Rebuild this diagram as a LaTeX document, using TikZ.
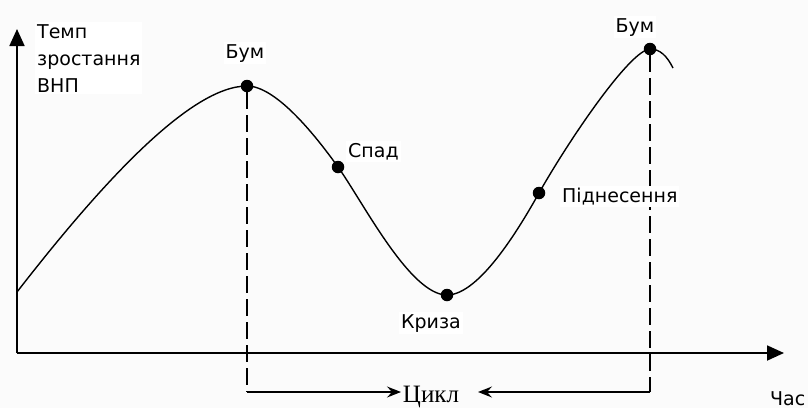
\documentclass[tikz,border=0pt]{standalone}
\usepackage{fontspec}
\setmainfont{DejaVu Sans}
\newfontfamily\serifcyr{Liberation Serif}
\usetikzlibrary{arrows.meta}
\definecolor{bgc}{RGB}{251,251,251}
\begin{document}
\begin{tikzpicture}[x=1pt,y=-1pt,
  axis/.style={line width=1.8pt,-{Triangle[length=17pt,width=15pt]}},
  curveline/.style={line width=1.4pt},
  dashline/.style={line width=1.8pt,dash pattern=on 17pt off 6pt},
  cycline/.style={line width=1.4pt,-{Stealth[length=14pt,width=11pt,inset=5pt]}},
  dot/.style={circle,fill=black,inner sep=0pt,minimum size=12.5pt},
  lbl/.style={font=\fontsize{19}{27}\selectfont,inner sep=0pt,fill=white},
  cyclbl/.style={font=\serifcyr\fontsize{25}{27}\selectfont,inner sep=0pt}]
\useasboundingbox (0,0) rectangle (808,408);
\fill[bgc] (0,0) rectangle (808,408);
% axes
\coordinate (O) at (17,353);
\coordinate (ytip) at (17,29);
\coordinate (xtip) at (784,353);
\draw[axis] (O) -- (ytip);
\draw[axis] (O) -- (xtip);
% points
\coordinate (start) at (17,292);
\coordinate (endc) at (673,68);
\node[dot] (boom1) at (247,86) {};
\node[dot] (fall) at (338,167) {};
\node[dot] (crisis) at (447,295) {};
\node[dot] (rise) at (539,193) {};
\node[dot] (boom2) at (650,49) {};
% curve
\draw[curveline] (start)
  .. controls (100,185) and (190,86) .. (boom1.center)
  .. controls (275,86) and (313,132) .. (fall.center)
  .. controls (363,202) and (410,295) .. (crisis.center)
  .. controls (480,295) and (521,225) .. (rise.center)
  .. controls (569,140) and (630,50) .. (boom2.center)
  .. controls (660,49) and (667,56) .. (endc);
% cycle
\coordinate (c1) at (247,392);
\coordinate (c2) at (650,392);
\coordinate (t1) at (401,392);
\coordinate (t2) at (478,392);
\draw[dashline] (boom1) -- (c1);
\draw[dashline] (boom2) -- (c2);
\draw[cycline] (c1) -- (t1);
\draw[cycline] (c2) -- (t2);
% labels
\node[lbl,anchor=north west,align=left,inner sep=2pt] (ylab) at (35,22) {Темп\\зростання\\ВНП};
\node[lbl,anchor=base,inner sep=2pt] (lboom1) at (245,58) {Бум};
\node[lbl,anchor=base west,inner sep=2pt] (lfall) at (346,157) {Спад};
\node[lbl,anchor=base,inner sep=2pt] (lcrisis) at (431,328) {Криза};
\node[lbl,anchor=base,inner sep=2pt] (lboom2) at (635,32) {Бум};
\node[lbl,anchor=base west,inner sep=2pt] (lrise) at (560,202) {Піднесення};
\node[cyclbl,anchor=base] (lcycle) at (431,402) {Цикл};
\node[lbl,anchor=base west,fill=none] (ltime) at (770,405) {Час};
\end{tikzpicture}
\end{document}
